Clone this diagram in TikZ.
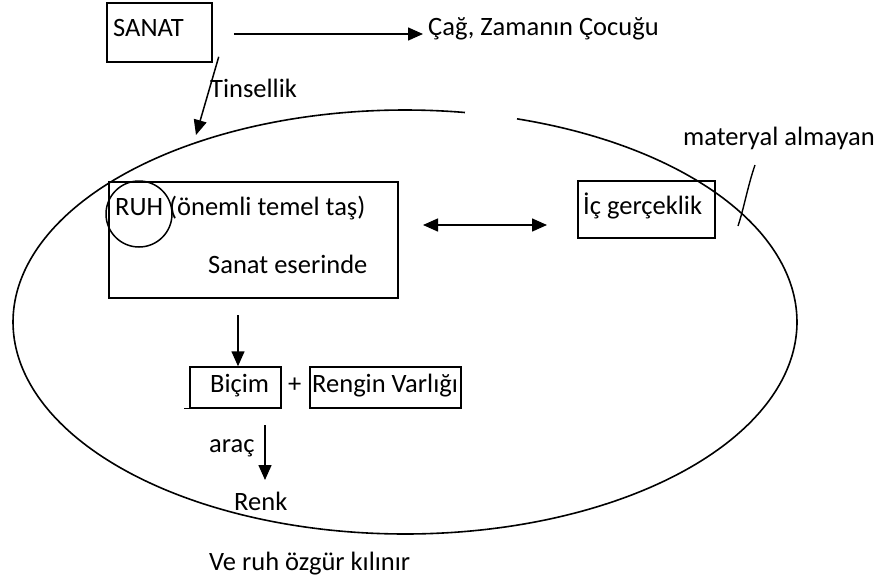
\documentclass[tikz,border=0pt]{standalone}
\usepackage{fontspec}
\setmainfont{Carlito}
\usetikzlibrary{arrows.meta}
\begin{document}
\begin{tikzpicture}[x=1pt,y=-1pt,
  every node/.style={font=\fontsize{26.5}{31}\selectfont, inner sep=0pt},
  lbl/.style={anchor=base west},
  frame/.style={draw, line width=1.5pt},
  tip/.tip={Triangle[length=15pt,width=13pt]},
  arr/.style={line width=1.5pt, -tip},
  darr/.style={line width=1.5pt, tip-tip},
  thin/.style={line width=1.4pt}]
\useasboundingbox (0,0) rectangle (880,584);

% large open ellipse (gap near the top)
\draw[line width=1.6pt] plot[domain=-73.4:278.8, samples=300, smooth]
  ({405+392*cos(\x)},{322+212*sin(\x)});

% boxes
\node[frame, minimum width=105pt, minimum height=59pt] (sanat) at (159.5,32.5) {};
\node[frame, minimum width=289pt, minimum height=116pt] (ruh) at (253.5,240) {};
\node[frame, minimum width=137pt, minimum height=57pt] (ic) at (646.5,209.5) {};
\node[frame, minimum width=91pt, minimum height=41pt] (bicim) at (235.5,387.5) {};
\node[frame, minimum width=151pt, minimum height=41pt] (rengin) at (385.5,387.5) {};
\draw[thin] (bicim.south west) -- ++(-5,0);

% ring round RUH
\node[draw, circle, line width=1.5pt, minimum size=66pt] (ring) at (139,214) {};

% labels
\node[lbl] (tsanat) at (113,36) {SANAT};
\node[lbl] (cag) at (428,35) {Çağ, Zamanın Çocuğu};
\node[lbl] (tins) at (210,97) {Tinsellik};
\node[lbl] (truh) at (115,215) {RUH (önemli temel taş)};
\node[lbl] (eser) at (208,273) {Sanat eserinde};
\node[lbl] (tic) at (583,214) {İç gerçeklik};
\node[lbl] (mat) at (683,145) {materyal almayan};
\node[lbl] (tbic) at (210,392) {Biçim};
\node[lbl] (plus) at (288,392) {+};
\node[lbl] (tren) at (312,392) {Rengin Varlığı};
\node[lbl] (arac) at (209,452) {araç};
\node[lbl] (renk) at (234,510) {Renk};
\node[lbl] (ozgur) at (209,570) {Ve ruh özgür kılınır};

% connectors
\coordinate (h0) at ([shift={(21,1.5)}]sanat.east);
\coordinate (h1) at (423,34);
\draw[arr] (h0) -- (h1);

\coordinate (t0) at ([shift={(6,-6)}]sanat.south east);
\coordinate (t1) at (196,135);
\draw[arr] (t0) -- (t1);

\coordinate (b0) at (423,225);
\coordinate (b1) at (547,225);
\draw[darr] (b0) -- (b1);

\coordinate (d0) at (238,315);
\draw[arr] (d0) -- (d0 |- bicim.north);

\coordinate (a0) at (265,425);
\coordinate (a1) at (265,480);
\draw[arr] (a0) -- (a1);

\coordinate (m0) at (755,165);
\coordinate (m1) at (738,226);
\draw[thin] (m0) .. controls (748,185) and (744,208) .. (m1);
\end{tikzpicture}
\end{document}
